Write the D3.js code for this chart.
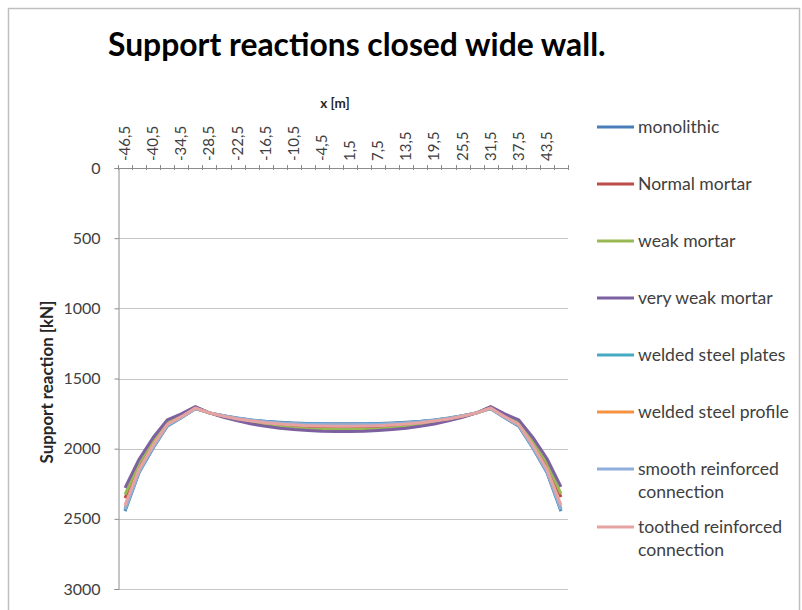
<!DOCTYPE html>
<html><head><meta charset="utf-8">
<script src="https://cdn.jsdelivr.net/npm/d3@7"></script>
<style>
html,body{margin:0;padding:0;background:#fff;}
svg{display:block;font-family:Lato,"Liberation Sans",sans-serif;}
</style></head>
<body>
<svg id="chart" width="802" height="610"></svg>
<script>
const categories = ["-46,5","-43,5","-40,5","-37,5","-34,5","-31,5","-28,5","-25,5","-22,5","-19,5","-16,5","-13,5","-10,5","-7,5","-4,5","-1,5","1,5","4,5","7,5","10,5","13,5","16,5","19,5","22,5","25,5","28,5","31,5","34,5","37,5","40,5","43,5","46,5"];
const yTicks = [0,500,1000,1500,2000,2500,3000];
const seriesNames = ["monolithic","Normal mortar","weak mortar","very weak mortar","welded steel plates","welded steel profile","smooth reinforced connection","toothed reinforced connection"];
const monolithic = [2445,2170,1995,1840,1780,1715,1745,1765,1782,1795,1805,1812,1817,1820,1822,1823,1823,1822,1820,1817,1812,1805,1795,1782,1765,1745,1715,1780,1840,1995,2170,2445];
const normalMortar = [2352,2115,1955,1815,1764,1707,1745,1771,1793,1811,1826,1837,1845,1850,1853,1854,1854,1853,1850,1845,1837,1826,1811,1793,1771,1745,1707,1764,1815,1955,2115,2345];
const weakMortar = [2328,2100,1942,1808,1760,1704,1745,1773,1797,1816,1832,1844,1853,1859,1862,1864,1864,1862,1859,1853,1844,1832,1816,1797,1773,1745,1704,1760,1808,1942,2100,2322];
const veryWeakMortar = [2280,2075,1920,1795,1752,1700,1745,1776,1802,1824,1841,1854,1864,1871,1876,1878,1878,1876,1871,1864,1854,1841,1824,1802,1776,1745,1700,1752,1795,1920,2070,2272];
const weldedPlates = [2438,2166,1991,1837,1778,1714,1745,1766,1784,1797,1808,1815,1820,1824,1826,1827,1827,1826,1824,1820,1815,1808,1797,1784,1766,1745,1714,1778,1837,1991,2166,2438];
const weldedProfile = [2424,2158,1985,1833,1776,1712,1745,1767,1786,1800,1811,1819,1825,1829,1831,1832,1832,1831,1829,1825,1819,1811,1800,1786,1767,1745,1712,1776,1833,1985,2158,2424];
const smoothReinf = [2432,2162,1988,1835,1777,1713,1745,1766,1785,1798,1809,1817,1822,1826,1828,1829,1829,1828,1826,1822,1817,1809,1798,1785,1766,1745,1713,1777,1835,1988,2162,2432];
const toothedReinf = [2402,2146,1975,1828,1772,1711,1745,1768,1788,1803,1815,1824,1831,1836,1839,1840,1840,1839,1836,1831,1824,1815,1803,1788,1768,1745,1711,1772,1828,1975,2146,2402];
const seriesValues = [monolithic,normalMortar,weakMortar,veryWeakMortar,weldedPlates,weldedProfile,smoothReinf,toothedReinf];
const colors = ["#4A7EBB","#BE4B48","#98B954","#7D60A0","#46AAC5","#F69240","#8FAEDA","#E6A3A1"];

const svg = d3.select("#chart");
svg.append("rect").attr("x",8.5).attr("y",8.5).attr("width",791).attr("height",610)
  .attr("fill","#fff").attr("stroke","#bfbfbf").attr("stroke-width",1.5);

const L=118, R=568, T=168, B=589;
const x = d3.scaleBand().domain(categories).range([L,R]).paddingInner(0).paddingOuter(0);
const y = d3.scaleLinear().domain([0,3000]).range([T,B]);
const cx = d => x(d) + x.bandwidth()/2;

function fit(sel, base, target){
  sel.attr("font-size", base);
  const w = sel.node().getComputedTextLength();
  sel.attr("font-size", base*target/w);
}

// gridlines
svg.append("g").selectAll("line").data(yTicks.filter(v=>v>0)).join("line")
  .attr("x1",L).attr("x2",R).attr("y1",d=>Math.round(y(d))+0.5).attr("y2",d=>Math.round(y(d))+0.5)
  .attr("stroke","#c6c6c6").attr("stroke-width",1.2);

// y axis
const yAxis = svg.append("g").attr("transform",`translate(${L+0.5},0)`)
  .call(d3.axisLeft(y).tickValues(yTicks).tickSize(4).tickPadding(14).tickFormat(d3.format("d")));
yAxis.select(".domain").attr("stroke","#8c8c8c");
yAxis.selectAll(".tick line").attr("stroke","#8c8c8c");
yAxis.selectAll("text").attr("font-size",16).attr("fill","#404040").attr("font-family","Lato");

// x axis at top
svg.append("line").attr("x1",L).attr("x2",R).attr("y1",T+0.5).attr("y2",T+0.5).attr("stroke","#8c8c8c");
const bounds = categories.map(c=>x(c)).concat([x(categories[categories.length-1])+x.bandwidth()]);
svg.append("g").selectAll("line").data(bounds).join("line")
  .attr("x1",d=>Math.round(d)+0.5).attr("x2",d=>Math.round(d)+0.5).attr("y1",T-3).attr("y2",T+2)
  .attr("stroke","#8c8c8c");
svg.append("g").selectAll("text").data(categories.filter((c,i)=>i%2===0)).join("text")
  .attr("transform",d=>`translate(${cx(d)+5},161) rotate(-90)`)
  .attr("text-anchor","start").attr("font-size",15).attr("fill","#404040").text(d=>d);

// axis titles
svg.append("text").attr("x",335).attr("y",108).attr("text-anchor","middle")
  .attr("font-size",13.5).attr("font-weight","bold").attr("fill","#262626").text("x [m]");
const yt = svg.append("text").attr("transform","translate(53,382) rotate(-90)").attr("text-anchor","middle")
  .attr("font-weight","bold").attr("fill","#262626").text("Support reaction [kN]");
fit(yt, 14, 163);

// title
const title = svg.append("text").attr("x",108).attr("y",56)
  .attr("font-weight","bold").attr("fill","#000").text("Support reactions closed wide wall.");
fit(title, 26, 498);

// lines
const line = d3.line().x((d,i)=>cx(categories[i])).y(d=>y(d));
svg.append("g").selectAll("path").data(seriesValues).join("path")
  .attr("d",d=>line(d)).attr("fill","none").attr("stroke",(d,i)=>colors[i])
  .attr("stroke-width",3).attr("stroke-linejoin","round");

// legend
const legendRows = [[127],[184],[241],[298],[355],[412],[469,492],[527,550]];
const lg = svg.append("g");
const probe = lg.append("text").attr("font-size",15).text("welded steel profile");
const legendSize = 15*151/probe.node().getComputedTextLength();
probe.remove();
seriesNames.forEach((n,i)=>{
  const ys = legendRows[i];
  lg.append("line").attr("x1",597).attr("x2",634).attr("y1",ys[0]).attr("y2",ys[0])
    .attr("stroke",colors[i]).attr("stroke-width",3);
  const words = n.split(" ");
  const parts = ys.length===2 ? [words.slice(0,2).join(" "), words.slice(2).join(" ")] : [n];
  parts.forEach((p,j)=>{
    lg.append("text").attr("x",638).attr("y",ys[j]).attr("dy","0.35em")
      .attr("font-size",legendSize).attr("fill","#404040").text(p);
  });
});
</script>
</body></html>
